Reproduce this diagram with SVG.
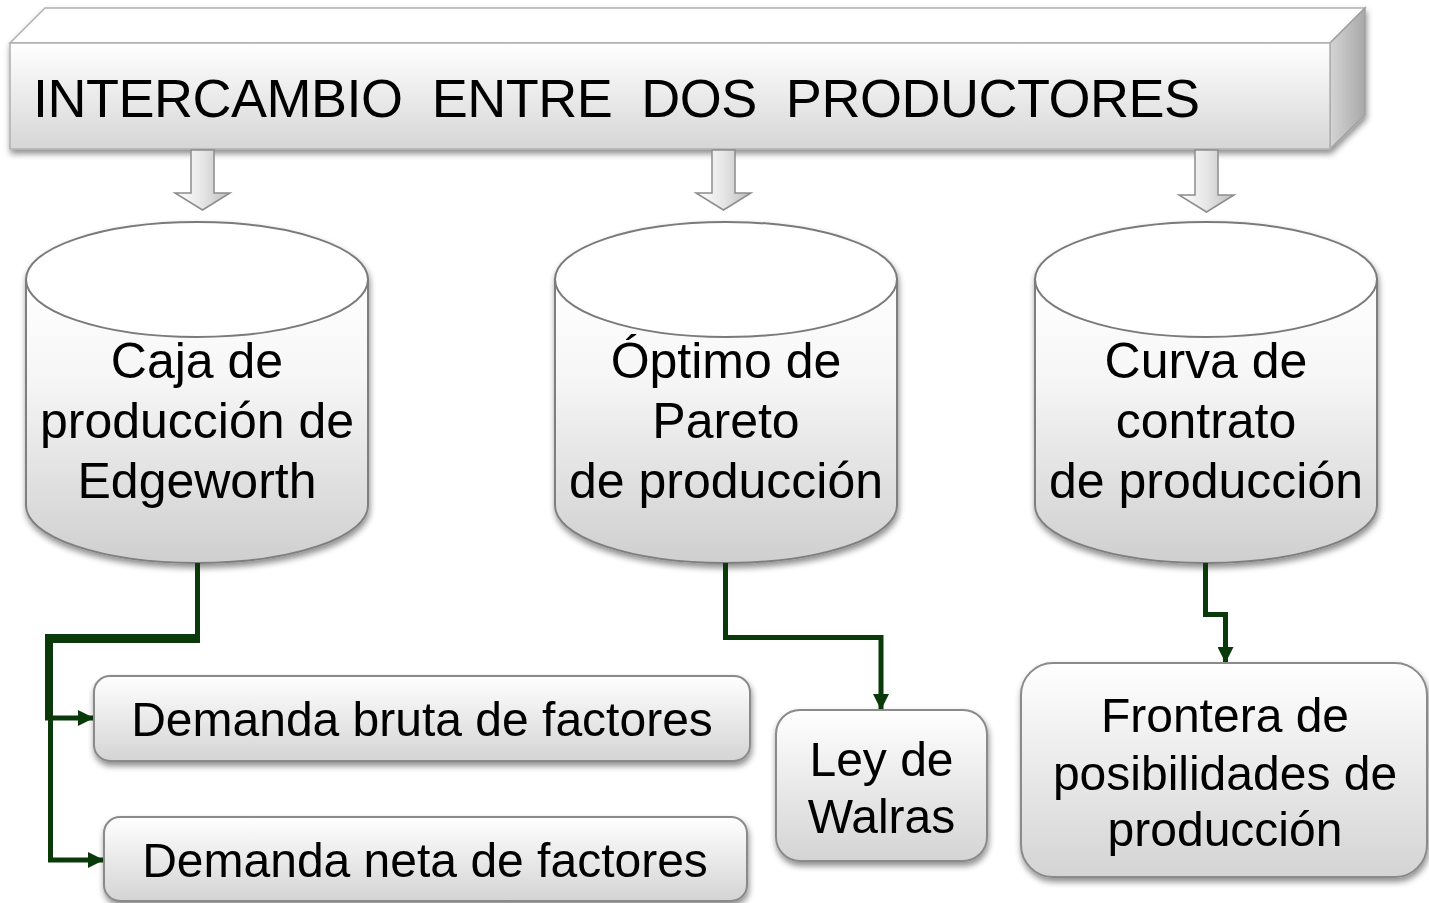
<svg xmlns="http://www.w3.org/2000/svg" width="1429" height="903" viewBox="0 0 1429 903">
<defs>
<linearGradient id="gFront" x1="0" y1="0" x2="0" y2="1">
<stop offset="0" stop-color="#ffffff"/><stop offset="1" stop-color="#d6d6d6"/>
</linearGradient>
<linearGradient id="gSide" x1="0" y1="0" x2="1" y2="0">
<stop offset="0" stop-color="#d4d4d4"/><stop offset="1" stop-color="#a8a8a8"/>
</linearGradient>
<linearGradient id="gCyl" x1="0" y1="0" x2="0" y2="1">
<stop offset="0" stop-color="#ffffff"/><stop offset="0.35" stop-color="#f6f6f6"/><stop offset="1" stop-color="#cfcfcf"/>
</linearGradient>
<linearGradient id="gBox" x1="0" y1="0" x2="0" y2="1">
<stop offset="0" stop-color="#ffffff"/><stop offset="1" stop-color="#d4d4d4"/>
</linearGradient>
<linearGradient id="gArr" x1="0" y1="0" x2="1" y2="0">
<stop offset="0" stop-color="#ffffff"/><stop offset="0.5" stop-color="#e6e6e6"/><stop offset="1" stop-color="#bdbdbd"/>
</linearGradient>
<filter id="sh" x="-10%" y="-10%" width="120%" height="130%">
<feGaussianBlur in="SourceAlpha" stdDeviation="3"/>
<feOffset dx="1" dy="4" result="b"/>
<feComponentTransfer><feFuncA type="linear" slope="0.45"/></feComponentTransfer>
<feMerge><feMergeNode/><feMergeNode in="SourceGraphic"/></feMerge>
</filter>
<marker id="ah" viewBox="0 0 10 10" refX="10" refY="5" markerWidth="3.2" markerHeight="3.2" orient="auto" markerUnits="strokeWidth">
<path d="M0,0 L10,5 L0,10 Z" fill="#0a3a0a"/>
</marker>
</defs>
<style>
text{font-family:"Liberation Sans",Arial,sans-serif;fill:#000;}
.t48{font-size:48px;text-anchor:middle;}
.t50{font-size:50px;text-anchor:middle;}
.cyl{fill:url(#gCyl);stroke:#7f7f7f;stroke-width:2;}
.cap{fill:#ffffff;stroke:#7a7a7a;stroke-width:2;}
.box{fill:url(#gBox);stroke:#8a8a8a;stroke-width:2;}
.con{fill:none;stroke:#0a3a0a;stroke-width:5;}
.arr{fill:url(#gArr);stroke:#8c8c8c;stroke-width:1.5;}
</style>
<rect width="1429" height="903" fill="#ffffff"/>

<g id="banner" filter="url(#sh)">
<polygon points="10,43 45,8 1365,8 1330,43" fill="#ffffff" stroke="#b0b0b0" stroke-width="1.5"/>
<polygon points="1330,43 1365,8 1365,115 1330,149" fill="url(#gSide)" stroke="#a0a0a0" stroke-width="1.5"/>
<rect x="10" y="43" width="1320" height="106" fill="url(#gFront)" stroke="#b0b0b0" stroke-width="1.5"/>
<text x="33" y="117" font-size="54" textLength="1167" lengthAdjust="spacing" xml:space="preserve">INTERCAMBIO  ENTRE  DOS  PRODUCTORES</text>
</g>

<g id="arrows-down">
<path class="arr" d="M191,150 H214 V193 H230 L202.5,210 L175,193 H191 Z"/>
<path class="arr" d="M712,150 H735 V193 H751 L723.5,210 L696,193 H712 Z"/>
<path class="arr" d="M1195,150 H1218 V195 H1234 L1206.5,212 L1179,195 H1195 Z"/>
</g>

<g id="cyl1" filter="url(#sh)">
<path class="cyl" d="M26,279.5 V505.5 A171,57.5 0 0 0 368,505.5 V279.5 Z"/>
<ellipse class="cap" cx="197" cy="279.5" rx="171" ry="57.5"/>
<text class="t50" x="197" y="378">Caja de</text>
<text class="t50" x="197" y="438">producción de</text>
<text class="t50" x="197" y="498">Edgeworth</text>
</g>

<g id="cyl2" filter="url(#sh)">
<path class="cyl" d="M555,279.5 V505.5 A171,57.5 0 0 0 897,505.5 V279.5 Z"/>
<ellipse class="cap" cx="726" cy="279.5" rx="171" ry="57.5"/>
<text class="t50" x="726" y="378">Óptimo de</text>
<text class="t50" x="726" y="438">Pareto</text>
<text class="t50" x="726" y="498">de producción</text>
</g>

<g id="cyl3" filter="url(#sh)">
<path class="cyl" d="M1035,279.5 V505.5 A171,57.5 0 0 0 1377,505.5 V279.5 Z"/>
<ellipse class="cap" cx="1206" cy="279.5" rx="171" ry="57.5"/>
<text class="t50" x="1206" y="378">Curva de</text>
<text class="t50" x="1206" y="438">contrato</text>
<text class="t50" x="1206" y="498">de producción</text>
</g>

<g id="connectors">
<path class="con" d="M197.5,563 V636.5 H47.5 V718 H94" marker-end="url(#ah)"/>
<path class="con" d="M197.5,563 V640.5 H50.5 V860 H104" marker-end="url(#ah)"/>
<path class="con" d="M725.5,563 V637.5 H881 V710" marker-end="url(#ah)"/>
<path class="con" d="M1205.5,563 V614.5 H1225.5 V663" marker-end="url(#ah)"/>
</g>

<g id="box-bruta" filter="url(#sh)">
<rect class="box" x="94" y="676" width="656" height="85" rx="16"/>
<text class="t48" x="422" y="736">Demanda bruta de factores</text>
</g>

<g id="box-neta" filter="url(#sh)">
<rect class="box" x="104" y="817" width="643" height="84" rx="16"/>
<text class="t48" x="425" y="877">Demanda neta de factores</text>
</g>

<g id="box-walras" filter="url(#sh)">
<rect class="box" x="776" y="710" width="211" height="151" rx="24"/>
<text class="t48" x="881.5" y="776">Ley de</text>
<text class="t48" x="881.5" y="833">Walras</text>
</g>

<g id="box-frontera" filter="url(#sh)">
<rect class="box" x="1021" y="663" width="406" height="214" rx="32"/>
<text class="t48" x="1225" y="732">Frontera de</text>
<text class="t48" x="1225" y="790">posibilidades de</text>
<text class="t48" x="1225" y="846">producción</text>
</g>
</svg>
